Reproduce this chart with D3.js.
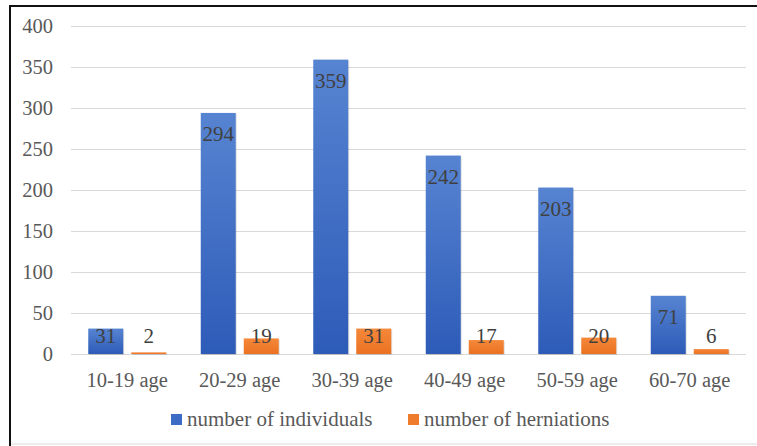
<!DOCTYPE html>
<html>
  <head>
    <meta charset="utf-8">
    <script src="https://d3js.org/d3.v7.min.js" charset="utf-8"></script>
  </head>
<body style="margin:0">
  <svg id="chart" width="757" height="446">
    <style>
      text { font-family: Liberation Serif; font-size: 20px; }
    </style>
  </svg>
  <script>
    // data
    var ageGroups = ["10-19 age", "20-29 age", "30-39 age", "40-49 age", "50-59 age", "60-70 age"];
    var individuals = [31, 294, 359, 242, 203, 71];
    var herniations = [2, 19, 31, 17, 20, 6];
    var seriesNames = ["number of individuals", "number of herniations"];
    var yTicks = [0, 50, 100, 150, 200, 250, 300, 350, 400];

    var width = 757, height = 446;
    var plot = {left: 71, right: 746, top: 26, bottom: 354};
    var axisStyle = "font-family:Liberation Serif; font-size:20.5px";
    var labelStyle = "font-family:Liberation Serif; font-size:21px";

    var svg = d3.select("#chart");

    var defs = svg.append("defs");
    var gradBlue = defs.append("linearGradient").attr("id", "gBlue")
        .attr("x1", 0).attr("y1", 0).attr("x2", 0).attr("y2", 1);
    gradBlue.append("stop").attr("offset", "0%").attr("stop-color", "#5784d1");
    gradBlue.append("stop").attr("offset", "100%").attr("stop-color", "#2d5bb8");
    var gradOrange = defs.append("linearGradient").attr("id", "gOrange")
        .attr("x1", 0).attr("y1", 0).attr("x2", 0).attr("y2", 1);
    gradOrange.append("stop").attr("offset", "0%").attr("stop-color", "#f5883a");
    gradOrange.append("stop").attr("offset", "100%").attr("stop-color", "#eb7222");

    var color = d3.scaleOrdinal()
        .domain(seriesNames)
        .range(["url(#gBlue)", "url(#gOrange)"]);
    var legendColor = d3.scaleOrdinal()
        .domain(seriesNames)
        .range(["#3d6cc6", "#ef7b2c"]);

    // frame: left and top black rules, faint line at the bottom
    svg.append("line").attr("x1", 10).attr("x2", 10).attr("y1", 5).attr("y2", height)
        .attr("stroke", "#111").attr("stroke-width", 2);
    svg.append("line").attr("x1", 9).attr("x2", width).attr("y1", 6).attr("y2", 6)
        .attr("stroke", "#111").attr("stroke-width", 2);
    svg.append("line").attr("x1", 11).attr("x2", width).attr("y1", 444).attr("y2", 444)
        .attr("stroke", "#ececec").attr("stroke-width", 2);

    var y = d3.scaleLinear()
        .domain([0, 400])
        .range([plot.bottom, plot.top]);

    var x = d3.scaleBand()
        .domain(ageGroups)
        .range([plot.left, plot.right])
        .padding(0);

    var xSub = d3.scaleBand()
        .domain(seriesNames)
        .range([17.25, x.bandwidth() - 17.25])
        .paddingInner(0.186);

    // gridlines
    svg.append("g")
        .selectAll("line")
        .data(yTicks)
        .enter().append("line")
          .attr("x1", plot.left)
          .attr("x2", plot.right)
          .attr("y1", function(d) { return Math.round(y(d)) + 0.5; })
          .attr("y2", function(d) { return Math.round(y(d)) + 0.5; })
          .attr("stroke", "#d9d9d9")
          .attr("stroke-width", 1);

    // y axis labels
    var yg = svg.append("g")
        .attr("transform", "translate(" + plot.left + ",0)")
        .call(d3.axisLeft(y).tickValues(yTicks).tickSize(0).tickPadding(18));
    yg.select(".domain").remove();
    yg.attr("font-family", null).attr("font-size", null);
    yg.selectAll("text")
        .attr("style", axisStyle)
        .attr("fill", "#595959");

    // x axis labels
    var xg = svg.append("g")
        .attr("transform", "translate(0," + plot.bottom + ")")
        .call(d3.axisBottom(x).tickSize(0).tickPadding(18));
    xg.select(".domain").remove();
    xg.attr("font-family", null).attr("font-size", null);
    xg.selectAll("text")
        .attr("style", axisStyle)
        .attr("fill", "#595959");

    var rows = ageGroups.map(function(g, i) {
      return {group: g, values: [
        {series: seriesNames[0], value: individuals[i]},
        {series: seriesNames[1], value: herniations[i]}
      ]};
    });

    var groups = svg.append("g")
        .selectAll("g")
        .data(rows)
        .enter().append("g")
          .attr("transform", function(d) { return "translate(" + x(d.group) + ",0)"; });

    // faint offset copy gives the bars their soft shadow
    groups.selectAll("rect.shade")
        .data(function(d) { return d.values; })
        .enter().append("rect")
          .attr("class", "shade")
          .attr("x", function(d) { return xSub(d.series) + 1; })
          .attr("y", function(d) { return y(d.value) + 1; })
          .attr("width", xSub.bandwidth())
          .attr("height", function(d) { return y(0) - y(d.value); })
          .attr("fill", "#000")
          .attr("fill-opacity", 0.12);

    groups.selectAll("rect.bar")
        .data(function(d) { return d.values; })
        .enter().append("rect")
          .attr("class", "bar")
          .attr("x", function(d) { return xSub(d.series); })
          .attr("y", function(d) { return y(d.value); })
          .attr("width", xSub.bandwidth())
          .attr("height", function(d) { return y(0) - y(d.value); })
          .attr("fill", function(d) { return color(d.series); });

    // labels sit inside the bar end, clamped to the base for short bars
    groups.selectAll("text")
        .data(function(d) { return d.values; })
        .enter().append("text")
          .attr("x", function(d) { return xSub(d.series) + xSub.bandwidth() / 2; })
          .attr("y", function(d) { return Math.min(y(d.value) + 28, plot.bottom - 11); })
          .attr("text-anchor", "middle")
          .attr("style", labelStyle)
          .attr("fill", "#404040")
          .text(function(d) { return d.value; });

    // legend
    var legendPos = [171, 408];
    var legend = svg.append("g")
        .selectAll("g")
        .data(seriesNames)
        .enter().append("g")
          .attr("transform", function(d, i) { return "translate(" + legendPos[i] + ",414)"; });

    legend.append("rect")
        .attr("width", 11)
        .attr("height", 11)
        .attr("fill", legendColor);

    legend.append("text")
        .attr("x", 16)
        .attr("y", 12)
        .attr("style", labelStyle)
        .attr("fill", "#595959")
        .text(function(d) { return d; });
  </script>
</body>
</html>
